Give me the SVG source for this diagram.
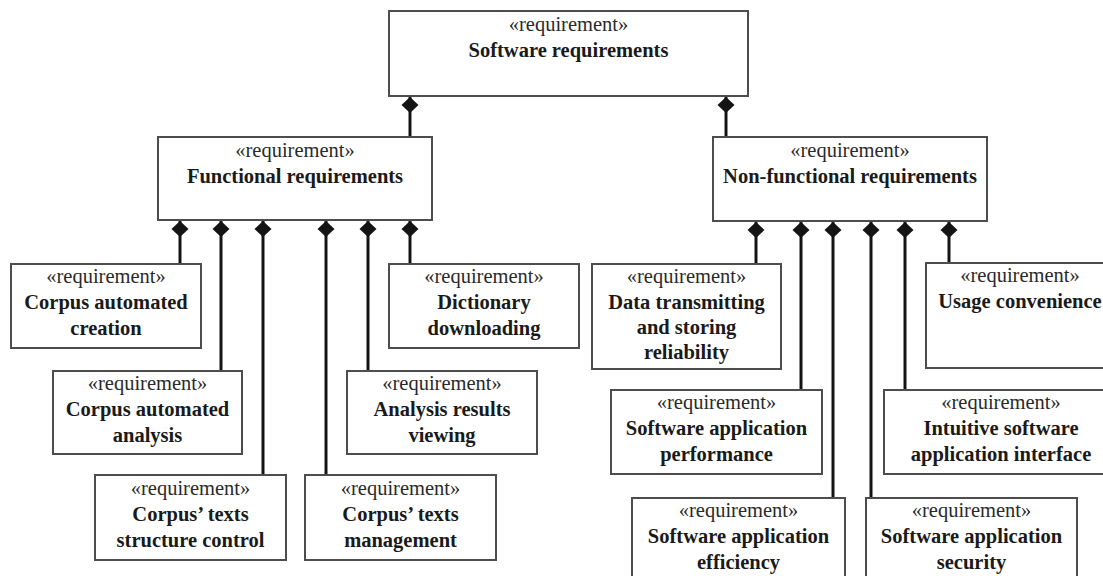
<svg xmlns="http://www.w3.org/2000/svg" width="1103" height="576" viewBox="0 0 1103 576">
  <style>
    .box { fill: #ffffff; stroke: #4d4d4d; stroke-width: 2; }
    .st { font-family: "Liberation Serif", "Times New Roman", serif; font-size: 20.5px; fill: #2a2a2a; text-anchor: middle; }
    .tt { font-family: "Liberation Serif", "Times New Roman", serif; font-size: 20.5px; font-weight: bold; fill: #1a1a1a; text-anchor: middle; }
    .link { stroke: #141414; stroke-width: 3; fill: none; marker-start: url(#comp); }
  </style>
  <defs>
    <!-- filled diamond for composition ends -->
    <marker id="comp" markerUnits="userSpaceOnUse" markerWidth="18" markerHeight="20" viewBox="0 -10 18 20" refX="0" refY="0" orient="auto" overflow="visible">
      <path d="M0,0 L8,-8.5 L16,0 L8,8.5 Z" fill="#141414"/>
    </marker>
  </defs>

  <rect width="1103" height="576" fill="#ffffff"/>

  <!-- connectors: parent (diamond) to child -->
  <g id="connectors">
    <line class="link" x1="410" y1="97" x2="410" y2="137"/>
    <line class="link" x1="726" y1="97" x2="726" y2="137"/>

    <line class="link" x1="180" y1="221" x2="180" y2="264"/>
    <line class="link" x1="221" y1="221" x2="221" y2="371"/>
    <line class="link" x1="263" y1="221" x2="263" y2="475"/>
    <line class="link" x1="326" y1="221" x2="326" y2="475"/>
    <line class="link" x1="368" y1="221" x2="368" y2="371"/>
    <line class="link" x1="410" y1="221" x2="410" y2="264"/>

    <line class="link" x1="756" y1="222" x2="756" y2="264"/>
    <line class="link" x1="801" y1="222" x2="801" y2="390"/>
    <line class="link" x1="833" y1="222" x2="833" y2="498"/>
    <line class="link" x1="871" y1="222" x2="871" y2="498"/>
    <line class="link" x1="905" y1="222" x2="905" y2="390"/>
    <line class="link" x1="949" y1="222" x2="949" y2="263"/>
  </g>

  <g id="software-requirements">
    <rect class="box" x="389" y="11" width="359" height="85"/>
    <text class="st" x="568.5" y="31">«requirement»</text>
    <text class="tt" x="568.5" y="57">Software requirements</text>
  </g>

  <g id="functional-requirements">
    <rect class="box" x="158" y="137" width="274" height="83"/>
    <text class="st" x="295" y="157">«requirement»</text>
    <text class="tt" x="295" y="183">Functional requirements</text>
  </g>

  <g id="non-functional-requirements">
    <rect class="box" x="713" y="137" width="274" height="84"/>
    <text class="st" x="850" y="157">«requirement»</text>
    <text class="tt" x="850" y="183">Non-functional requirements</text>
  </g>

  <g id="corpus-creation">
    <rect class="box" x="11" y="264" width="190" height="84"/>
    <text class="st" x="106" y="283">«requirement»</text>
    <text class="tt" x="106" y="309">Corpus automated</text>
    <text class="tt" x="106" y="335">creation</text>
  </g>

  <g id="corpus-analysis">
    <rect class="box" x="53" y="371" width="189" height="83"/>
    <text class="st" x="147.5" y="390">«requirement»</text>
    <text class="tt" x="147.5" y="416">Corpus automated</text>
    <text class="tt" x="147.5" y="442">analysis</text>
  </g>

  <g id="texts-structure-control">
    <rect class="box" x="95" y="475" width="191" height="85"/>
    <text class="st" x="190.5" y="495">«requirement»</text>
    <text class="tt" x="190.5" y="521">Corpus’ texts</text>
    <text class="tt" x="190.5" y="547">structure control</text>
  </g>

  <g id="texts-management">
    <rect class="box" x="305" y="475" width="191" height="85"/>
    <text class="st" x="400.5" y="495">«requirement»</text>
    <text class="tt" x="400.5" y="521">Corpus’ texts</text>
    <text class="tt" x="400.5" y="547">management</text>
  </g>

  <g id="results-viewing">
    <rect class="box" x="347" y="371" width="190" height="83"/>
    <text class="st" x="442" y="390">«requirement»</text>
    <text class="tt" x="442" y="416">Analysis results</text>
    <text class="tt" x="442" y="442">viewing</text>
  </g>

  <g id="dictionary-downloading">
    <rect class="box" x="389" y="264" width="190" height="84"/>
    <text class="st" x="484" y="283">«requirement»</text>
    <text class="tt" x="484" y="309">Dictionary</text>
    <text class="tt" x="484" y="335">downloading</text>
  </g>

  <g id="data-reliability">
    <rect class="box" x="592" y="264" width="189" height="105"/>
    <text class="st" x="686.5" y="283">«requirement»</text>
    <text class="tt" x="686.5" y="309">Data transmitting</text>
    <text class="tt" x="686.5" y="334">and storing</text>
    <text class="tt" x="686.5" y="359">reliability</text>
  </g>

  <g id="app-performance">
    <rect class="box" x="611" y="390" width="211" height="84"/>
    <text class="st" x="716.5" y="409">«requirement»</text>
    <text class="tt" x="716.5" y="435">Software application</text>
    <text class="tt" x="716.5" y="461">performance</text>
  </g>

  <g id="app-efficiency">
    <rect class="box" x="632" y="498" width="213" height="95"/>
    <text class="st" x="738.5" y="517">«requirement»</text>
    <text class="tt" x="738.5" y="543">Software application</text>
    <text class="tt" x="738.5" y="569">efficiency</text>
  </g>

  <g id="app-security">
    <rect class="box" x="866" y="498" width="211" height="95"/>
    <text class="st" x="971.5" y="517">«requirement»</text>
    <text class="tt" x="971.5" y="543">Software application</text>
    <text class="tt" x="971.5" y="569">security</text>
  </g>

  <g id="app-interface">
    <rect class="box" x="884" y="390" width="234" height="84"/>
    <text class="st" x="1001" y="409">«requirement»</text>
    <text class="tt" x="1001" y="435">Intuitive software</text>
    <text class="tt" x="1001" y="461">application interface</text>
  </g>

  <g id="usage-convenience">
    <rect class="box" x="926" y="263" width="188" height="105"/>
    <text class="st" x="1020" y="282">«requirement»</text>
    <text class="tt" x="1020" y="308">Usage convenience</text>
  </g>
</svg>
